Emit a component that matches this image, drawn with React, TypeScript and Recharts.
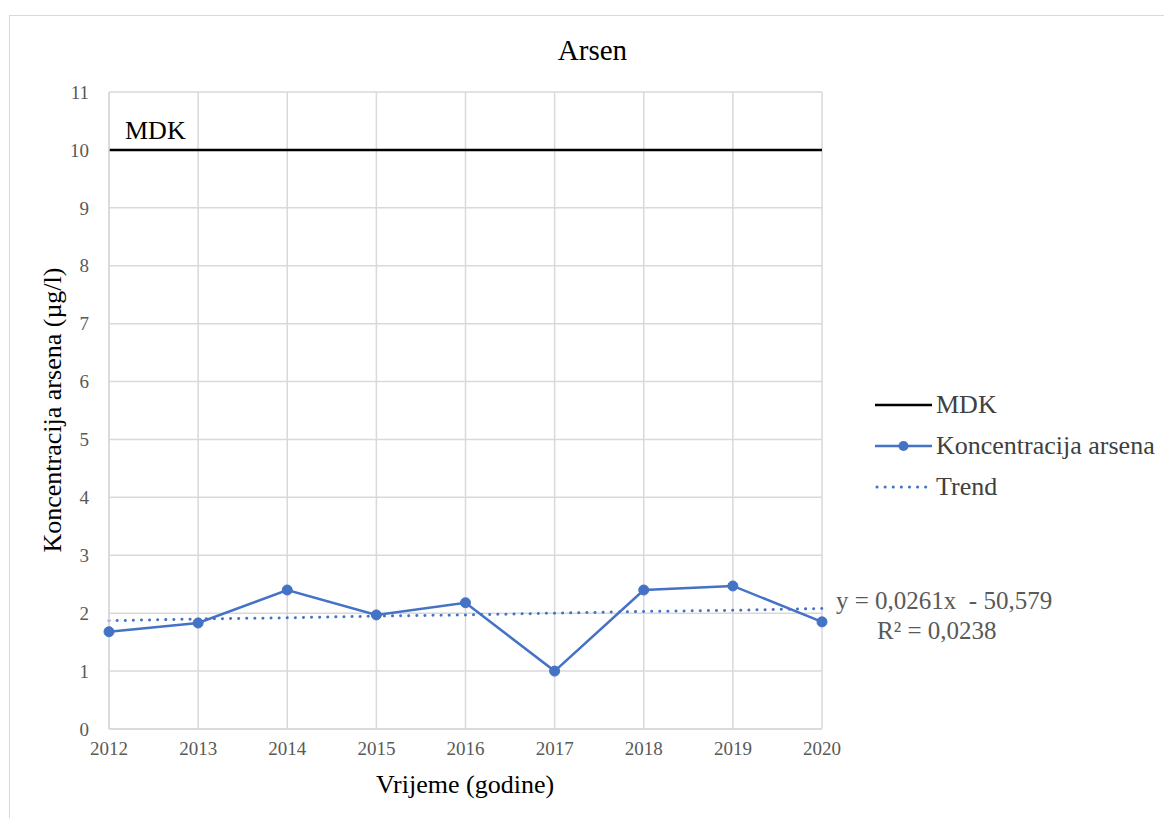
import { LineChart, Line, XAxis, YAxis, CartesianGrid, ReferenceLine } from 'recharts'

const years = ['2012', '2013', '2014', '2015', '2016', '2017', '2018', '2019', '2020']
const arsen = [1.68, 1.83, 2.4, 1.97, 2.18, 1.0, 2.4, 2.47, 1.85]
const trend = [1.87, 1.9, 1.92, 1.95, 1.97, 2.0, 2.03, 2.05, 2.08]
const mdk = [10, 10, 10, 10, 10, 10, 10, 10, 10]
const yTicks = [0, 1, 2, 3, 4, 5, 6, 7, 8, 9, 10, 11]

const data = years.map((year, i) => ({
    year,
    mdk: mdk[i],
    arsen: arsen[i],
    trend: trend[i],
}))

const BLUE = '#4472C4'
const FONT = '"Liberation Serif", "Times New Roman", serif'
const TREND_DASH = '0.1 8'

function LegendContent() {
    const row = { display: 'flex', alignItems: 'center', height: 41 } as const
    const text = { fontFamily: FONT, fontSize: 26, color: '#404040', marginLeft: 4, lineHeight: '30px' }
    return (
        <div>
            <div style={row}>
                <svg width={57} height={10}><line x1={0} y1={5} x2={57} y2={5} stroke="#000" strokeWidth={2.5} /></svg>
                <span style={text}>MDK</span>
            </div>
            <div style={row}>
                <svg width={57} height={12}>
                    <line x1={0} y1={6} x2={57} y2={6} stroke={BLUE} strokeWidth={2.5} />
                    <circle cx={28.5} cy={6} r={5} fill={BLUE} />
                </svg>
                <span style={text}>Koncentracija arsena</span>
            </div>
            <div style={row}>
                <svg width={57} height={10}>
                    <line x1={2} y1={5} x2={57} y2={5} stroke={BLUE} strokeWidth={3} strokeDasharray={TREND_DASH} strokeLinecap="round" />
                </svg>
                <span style={text}>Trend</span>
            </div>
        </div>
    )
}

export default function App() {
    return (
        <div style={{ position: 'absolute', left: 9, top: 15, width: 1160, height: 810, border: '1px solid #d9d9d9', background: '#fff', fontFamily: FONT }}>
            <div style={{ position: 'absolute', left: 0, top: 17, width: 1165, textAlign: 'center', fontSize: 29, lineHeight: '34px', color: '#000' }}>
                Arsen
            </div>
            <LineChart
                width={1150}
                height={800}
                data={data}
                margin={{ top: 76, right: 338, left: 59, bottom: 57 }}
                style={{ position: 'absolute', left: 0, top: 0 }}
            >
                <CartesianGrid stroke="#d9d9d9" strokeWidth={1.5} />
                <XAxis
                    dataKey="year"
                    height={30}
                    tick={{ fontSize: 19, fill: '#595959', fontFamily: FONT }}
                    tickLine={false}
                    axisLine={{ stroke: '#d9d9d9', strokeWidth: 1.5 }}
                    tickMargin={7}
                />
                <YAxis
                    width={40}
                    domain={[0, 11]}
                    ticks={yTicks}
                    interval={0}
                    tick={{ fontSize: 19, fill: '#595959', fontFamily: FONT }}
                    tickLine={false}
                    axisLine={{ stroke: '#d9d9d9', strokeWidth: 1.5 }}
                    tickMargin={14}
                />
                <ReferenceLine
                    y={10}
                    stroke="none"
                    label={(props: any) => (
                        <text x={props.viewBox.x + 16} y={props.viewBox.y - 11} fontSize={26} fill="#000" fontFamily={FONT}>
                            MDK
                        </text>
                    )}
                />
                <Line
                    dataKey="mdk"
                    name="MDK"
                    stroke="#000"
                    strokeWidth={2.5}
                    dot={false}
                    activeDot={false}
                    isAnimationActive={false}
                />
                <Line
                    dataKey="trend"
                    name="Trend"
                    stroke={BLUE}
                    strokeWidth={3}
                    strokeDasharray={TREND_DASH}
                    strokeLinecap="round"
                    dot={false}
                    activeDot={false}
                    isAnimationActive={false}
                />
                <Line
                    dataKey="arsen"
                    name="Koncentracija arsena"
                    stroke={BLUE}
                    strokeWidth={2.5}
                    dot={{ r: 5, fill: BLUE, stroke: BLUE, strokeWidth: 1 }}
                    activeDot={false}
                    isAnimationActive={false}
                />
            </LineChart>
            <div style={{ position: 'absolute', left: 255, top: 754, width: 400, textAlign: 'center', fontSize: 26, lineHeight: '30px', color: '#000' }}>
                Vrijeme (godine)
            </div>
            <div style={{ position: 'absolute', left: 43 - 200, top: 394 - 15, width: 400, textAlign: 'center', fontSize: 26, lineHeight: '30px', color: '#000', transform: 'rotate(-90deg)' }}>
                Koncentracija arsena (µg/l)
            </div>
            <div style={{ position: 'absolute', left: 865, top: 368, width: 290 }}>
                <LegendContent />
            </div>
            <div style={{ position: 'absolute', left: 826, top: 570, fontSize: 25, lineHeight: '29px', color: '#595959', whiteSpace: 'pre' }}>
                y = 0,0261x  - 50,579
            </div>
            <div style={{ position: 'absolute', left: 867, top: 600, fontSize: 25, lineHeight: '29px', color: '#595959' }}>
                R² = 0,0238
            </div>
        </div>
    )
}
